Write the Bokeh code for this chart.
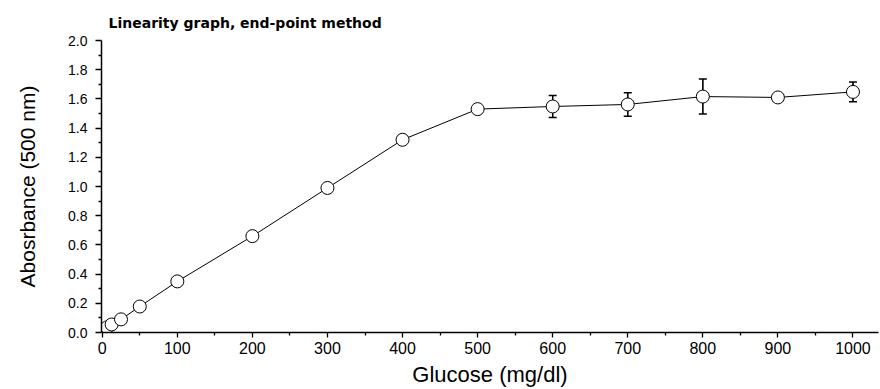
from bokeh.plotting import figure
from bokeh.models import ColumnDataSource, Whisker, FixedTicker, Range1d, Title, CustomJSTickFormatter
from bokeh.embed import file_html
from bokeh.resources import INLINE

glucose = [3.125, 6.25, 12.5, 25, 50, 100, 200, 300, 400, 500, 600, 700, 800, 900, 1000]
absorbance = [0.02, 0.035, 0.055, 0.09, 0.178, 0.35, 0.66, 0.99, 1.32, 1.53, 1.548, 1.562, 1.616, 1.61, 1.648]
error = [0.005, 0.005, 0.005, 0.006, 0.01, 0.012, 0.012, 0.012, 0.012, 0.01, 0.075, 0.08, 0.12, 0.015, 0.068]

x_ticks = [0, 100, 200, 300, 400, 500, 600, 700, 800, 900, 1000]
y_ticks = [0.0, 0.2, 0.4, 0.6, 0.8, 1.0, 1.2, 1.4, 1.6, 1.8, 2.0]

src = ColumnDataSource(dict(
    x=glucose, y=absorbance,
    lo=[a - e for a, e in zip(absorbance, error)],
    hi=[a + e for a, e in zip(absorbance, error)],
))

p = figure(width=880, height=389, output_backend="svg", toolbar_location=None,
           x_range=Range1d(-1, 1034), y_range=Range1d(0, 2.0),
           min_border_left=101, min_border_right=2, min_border_top=40, min_border_bottom=57)
p.title = Title(text="Linearity graph, end-point method", align="left", offset=7,
                text_font="DejaVu Sans", text_font_style="bold", text_font_size="14px",
                text_color="black", standoff=19)
p.outline_line_color = None
p.xgrid.grid_line_color = None
p.ygrid.grid_line_color = None

for ax in (p.xaxis[0], p.yaxis[0]):
    ax.axis_line_color = "black"
    ax.axis_line_width = 1.5
    ax.major_tick_line_color = "black"
    ax.minor_tick_line_color = "black"
    ax.major_tick_line_width = 1.3
    ax.minor_tick_line_width = 1.3
    ax.major_tick_in = 0
    ax.minor_tick_in = 0
    ax.major_label_text_font = "Liberation Sans"
    ax.major_label_text_color = "black"
    ax.axis_label_text_font = "Liberation Sans"
    ax.axis_label_text_font_style = "normal"
    ax.axis_label_text_color = "black"

p.xaxis.ticker = FixedTicker(ticks=x_ticks, minor_ticks=[50 + 100 * i for i in range(10)])
p.yaxis.ticker = FixedTicker(ticks=y_ticks, minor_ticks=[0.1 + 0.2 * i for i in range(10)])
p.yaxis.formatter = CustomJSTickFormatter(code="return tick.toFixed(1);")
p.xaxis.major_label_text_font_size = "16px"
p.yaxis.major_label_text_font_size = "14px"
p.xaxis.major_tick_out = 5
p.xaxis.minor_tick_out = 3
p.yaxis.major_tick_out = 6
p.yaxis.minor_tick_out = 3
p.xaxis.major_label_standoff = 4
p.yaxis.major_label_standoff = 8
p.xaxis.axis_label = "Glucose (mg/dl)"
p.yaxis.axis_label = "Abosrbance (500 nm)"
p.xaxis.axis_label_text_font_size = "22px"
p.yaxis.axis_label_text_font_size = "21px"
p.xaxis.axis_label_standoff = 5
p.yaxis.axis_label_standoff = 26

p.add_layout(Whisker(source=src, base="x", lower="lo", upper="hi",
                     line_color="black", line_width=1.2,
                     upper_head=None, lower_head=None))
w = Whisker(source=src, base="x", lower="lo", upper="hi", line_color="black", line_width=1.2)
w.upper_head.size = 8
w.lower_head.size = 8
w.upper_head.line_color = "black"
w.lower_head.line_color = "black"
w.upper_head.line_width = 1.5
w.lower_head.line_width = 1.5
p.add_layout(w)

p.line("x", "y", source=src, line_color="black", line_width=1)
p.scatter("x", "y", source=src, marker="circle", size=13, fill_color="white",
          line_color="black", line_width=1)

open("out.html", "w").write(file_html(p, INLINE))
